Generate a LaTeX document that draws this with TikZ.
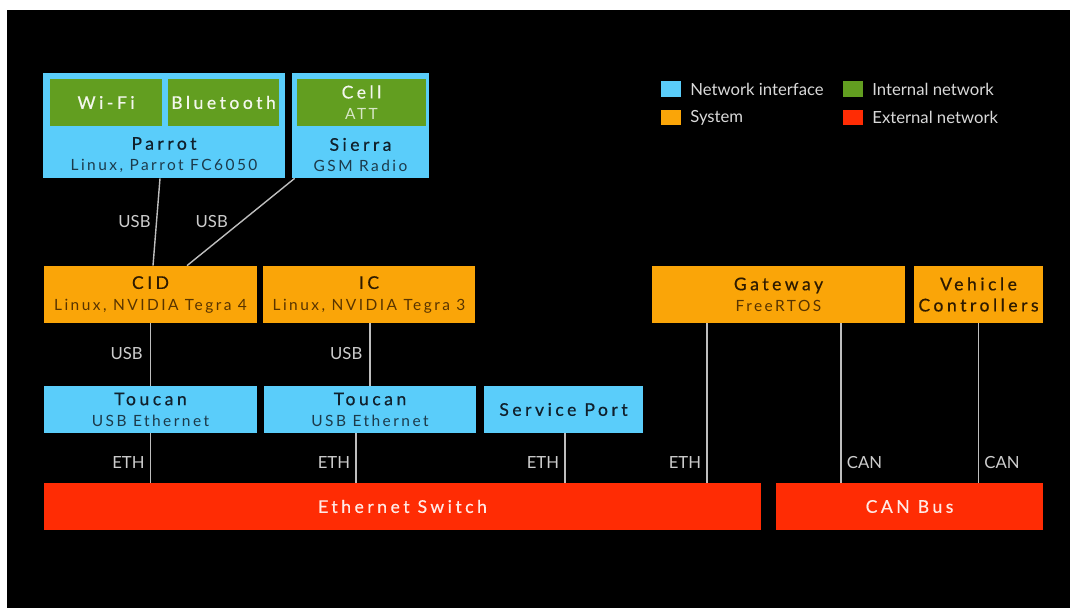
\documentclass[tikz,border=0pt]{standalone}
\usepackage{fontspec}
\setmainfont{Lato}
\newfontfamily\ttlfont[LetterSpace=20,FakeBold=0.5]{Lato}
\newfontfamily\subfont[LetterSpace=16]{Lato}
\newcommand{\ttl}{\ttlfont\fontsize{10}{13}\selectfont}
\newcommand{\subt}{\subfont\fontsize{8.8}{13}\selectfont}
\definecolor{netif}{RGB}{90,205,250}
\definecolor{intnet}{RGB}{98,158,32}
\definecolor{sysbox}{RGB}{250,165,8}
\definecolor{extnet}{RGB}{255,44,4}
\definecolor{wiregray}{RGB}{190,190,190}
\definecolor{lblgray}{RGB}{205,205,205}
\definecolor{darkblue}{RGB}{16,32,44}
\definecolor{subblue}{RGB}{28,58,74}
\definecolor{darkbrown}{RGB}{45,26,0}
\definecolor{subbrown}{RGB}{88,52,0}
\begin{document}
\begin{tikzpicture}[x=0.02cm,y=-0.02cm,
  box/.style={rectangle, inner sep=0pt, align=center},
  netbox/.style={box, fill=netif, text=darkblue},
  intbox/.style={box, fill=intnet, text=white!92!intnet},
  sysbox/.style={box, fill=sysbox, text=darkbrown},
  extbox/.style={box, fill=extnet, text=white!90!extnet},
  wire/.style={draw=wiregray, line width=0.8pt},
  lbl/.style={inner sep=0pt, text=lblgray, font=\fontsize{9.5}{11}\selectfont},
  swatch/.style={rectangle, inner sep=0pt, minimum width=0.4cm, minimum height=0.32cm},
  legtxt/.style={anchor=west, inner sep=0pt, text=white!85!black, font=\fontsize{9.5}{11}\selectfont}]
\useasboundingbox (0,0) rectangle (1070,608);
\fill[white] (0,0) rectangle (1070,608);
\fill[black] (7,10) rectangle (1070,608);

% radios on top
\node[netbox, minimum width=4.84cm, minimum height=2.1cm] (parrot) at (164,125.5) {};
\node[intbox, minimum width=2.24cm, minimum height=0.94cm] (wifi) at (106,102.5) {\ttl Wi-Fi};
\node[intbox, minimum width=2.22cm, minimum height=0.94cm] (bt) at (223.5,102.5) {\ttl Bluetooth};
\node[box, text=darkblue] (parrottxt) at (164,155) {{\ttl Parrot}\\{\subt\color{subblue}Linux, Parrot FC6050}};
\node[netbox, minimum width=2.74cm, minimum height=2.1cm] (sierra) at (360.5,125.5) {};
\node[intbox, minimum width=2.58cm, minimum height=0.94cm] (cell) at (361.5,102.5) {{\ttl Cell}\\{\subt\color{white!75!intnet}ATT}};
\node[box, text=darkblue] (sierratxt) at (360.5,155) {{\ttl Sierra}\\{\subt\color{subblue}GSM Radio}};

% systems
\node[sysbox, minimum width=4.26cm, minimum height=1.14cm] (cid) at (150.5,294.5) {{\ttl CID}\\{\subt\color{subbrown}Linux, NVIDIA Tegra 4}};
\node[sysbox, minimum width=4.24cm, minimum height=1.14cm] (ic) at (369,294.5) {{\ttl IC}\\{\subt\color{subbrown}Linux, NVIDIA Tegra 3}};
\node[sysbox, minimum width=5.06cm, minimum height=1.14cm] (gateway) at (778.5,294.5) {{\ttl Gateway}\\{\subt\color{subbrown}FreeRTOS}};
\node[sysbox, minimum width=2.58cm, minimum height=1.14cm] (vehicle) at (978.5,294.5) {{\ttl Vehicle}\\{\ttl Controllers}};

% network interfaces
\node[netbox, minimum width=4.26cm, minimum height=0.94cm] (toucanA) at (150.5,409.5) {{\ttl Toucan}\\{\subt\color{subblue}USB Ethernet}};
\node[netbox, minimum width=4.24cm, minimum height=0.94cm] (toucanB) at (370,409.5) {{\ttl Toucan}\\{\subt\color{subblue}USB Ethernet}};
\node[netbox, minimum width=3.18cm, minimum height=0.94cm] (service) at (563.5,409.5) {\ttl Service Port};

% buses
\node[extbox, minimum width=14.34cm, minimum height=0.94cm] (ethsw) at (402.5,506.5) {\ttl Ethernet Switch};
\node[extbox, minimum width=5.34cm, minimum height=0.94cm] (canbus) at (909.5,506.5) {\ttl CAN Bus};

% links
\path[wire] ([xshift=-0.08cm]parrot.south) -- ([xshift=0.05cm]cid.north) node[lbl, pos=0.5, anchor=east, xshift=-3pt] (usbA) {USB};
\path[wire] ([xshift=0.06cm]sierra.south west) -- ([xshift=0.73cm]cid.north) node[lbl, pos=0.5, anchor=east, xshift=-7pt] (usbB) {USB};
\path[wire] (cid.south) -- (cid.south |- toucanA.north) node[lbl, pos=0.49, anchor=east, xshift=-4pt] (usbC) {USB};
\path[wire] ([xshift=0.02cm]ic.south) -- ([xshift=0.02cm]ic.south |- toucanB.north) node[lbl, pos=0.49, anchor=east, xshift=-4pt] (usbD) {USB};
\path[wire] (toucanA.south) -- (toucanA.south |- ethsw.north) node[lbl, pos=0.6, anchor=east, xshift=-3pt] (ethA) {ETH};
\path[wire] ([xshift=-0.28cm]toucanB.south) -- ([xshift=-0.28cm]toucanB.south |- ethsw.north) node[lbl, pos=0.6, anchor=east, xshift=-3pt] (ethB) {ETH};
\path[wire] ([xshift=0.03cm]service.south) -- ([xshift=0.03cm]service.south |- ethsw.north) node[lbl, pos=0.6, anchor=east, xshift=-3pt] (ethC) {ETH};
\path[wire] ([xshift=-1.43cm]gateway.south) -- ([xshift=-1.43cm]gateway.south |- ethsw.north) node[lbl, pos=0.875, anchor=east, xshift=-3pt] (ethD) {ETH};
\path[wire] ([xshift=1.25cm]gateway.south) -- ([xshift=1.25cm]gateway.south |- canbus.north) node[lbl, pos=0.875, anchor=west, xshift=3pt] (canA) {CAN};
\path[wire] (vehicle.south) -- (vehicle.south |- canbus.north) node[lbl, pos=0.875, anchor=west, xshift=3pt] (canB) {CAN};

% legend
\node[swatch, fill=netif] (legA) at (671,89) {};
\node[legtxt] (legAtxt) at (690,89) {Network interface};
\node[swatch, fill=sysbox] (legB) at (671,117.5) {};
\node[legtxt] (legBtxt) at (690,117.5) {System};
\node[swatch, fill=intnet] (legC) at (853,89) {};
\node[legtxt] (legCtxt) at (872,89) {Internal network};
\node[swatch, fill=extnet] (legD) at (853,117.5) {};
\node[legtxt] (legDtxt) at (872,117.5) {External network};
\end{tikzpicture}
\end{document}
